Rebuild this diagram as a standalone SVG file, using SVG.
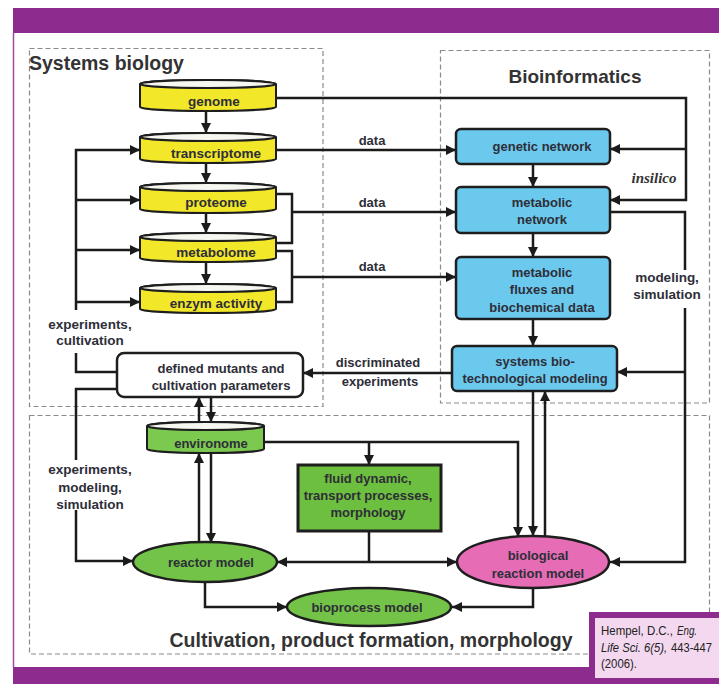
<svg xmlns="http://www.w3.org/2000/svg" width="719" height="684" viewBox="0 0 719 684">
  <defs>
    <marker id="ah" markerUnits="userSpaceOnUse" markerWidth="11" markerHeight="11" refX="10" refY="5" orient="auto">
      <path d="M0,0 L10,5 L0,10 z" fill="#1b1b1b"/>
    </marker>
  </defs>
  <style>
    .ln { stroke:#1b1b1b; stroke-width:2.5; fill:none; }
    .ar { marker-end:url(#ah); }
    .dash { fill:none; stroke:#8a8a8a; stroke-width:1.2; stroke-dasharray:5 3; }
    .t { font-family:"Liberation Sans", Arial, sans-serif; font-weight:bold; font-size:13px; fill:#2e2e38; text-anchor:middle; }
    .tc { font-size:13.5px; }
    .title { font-family:"Liberation Sans", Arial, sans-serif; font-weight:bold; fill:#333; }
    .cyl { stroke:#1e1e1e; stroke-width:2; }
    .yel { fill:#f2e829; }
    .cap { fill:#f7f7f2; }
    .blue { fill:#6cc9ee; stroke:#1e1e1e; stroke-width:2.5; }
    .green { fill:#72c347; stroke:#1e1e1e; stroke-width:2.5; }
    .cite { font-family:"Liberation Sans", Arial, sans-serif; font-size:12px; fill:#222; }
  </style>

  <!-- frame -->
  <rect x="0" y="0" width="719" height="684" fill="#ffffff"/>
  <rect x="13" y="8" width="706" height="25" fill="#8d2b8e"/>
  <line x1="13.5" y1="33" x2="13.5" y2="667" stroke="#a04aa0" stroke-width="1.5"/>
  <rect x="13" y="667" width="706" height="17" fill="#8d2b8e"/>

  <!-- section boxes -->
  <g id="sections">
    <rect class="dash" x="29.5" y="48.5" width="293.5" height="358"/>
    <rect class="dash" x="440.5" y="50.5" width="269" height="352.5"/>
    <rect class="dash" x="29.5" y="415.5" width="680" height="238.5"/>
    <text class="title" x="29" y="70" font-size="19.5">Systems biology</text>
    <text class="title" x="575" y="83" font-size="19" text-anchor="middle">Bioinformatics</text>
    <text class="title" x="371" y="647" font-size="19.5" text-anchor="middle">Cultivation, product formation, morphology</text>
  </g>

  <!-- connectors -->
  <g id="connectors">
    <path class="ln ar" d="M206,111 V133"/>
    <path class="ln ar" d="M206,163 V183"/>
    <path class="ln ar" d="M206,213 V233"/>
    <path class="ln ar" d="M206,262 V284"/>

    <path class="ln ar" d="M76,310 V150 H140"/>
    <path class="ln ar" d="M76,200 H140"/>
    <path class="ln ar" d="M76,250 H140"/>
    <path class="ln ar" d="M76,302 H140"/>
    <path class="ln" d="M76,353 V372 H117"/>
    <path class="ln" d="M117,389 H76 V460"/>
    <path class="ln ar" d="M76,510 V561 H133"/>

    <path class="ln ar" d="M276,98 H686 V200 H610"/>
    <path class="ln ar" d="M686,149 H610"/>
    <path class="ln ar" d="M276,150 H456"/>
    <path class="ln" d="M276,194 H292 V243 H276"/>
    <path class="ln ar" d="M292,212 H456"/>
    <path class="ln" d="M276,251 H292 V302 H276"/>
    <path class="ln ar" d="M292,277 H456"/>

    <path class="ln ar" d="M533,164 V187"/>
    <path class="ln ar" d="M533,233 V257"/>
    <path class="ln ar" d="M533,319 V346"/>

    <path class="ln" d="M610,212 H685 V270"/>
    <path class="ln ar" d="M685,308 V562 H610"/>
    <path class="ln ar" d="M685,372 H617"/>
    <path class="ln ar" d="M452,373 H303"/>

    <path class="ln ar" d="M199,422 V397"/>
    <path class="ln ar" d="M211,397 V422"/>
    <path class="ln ar" d="M199,543 V453"/>
    <path class="ln ar" d="M211,453 V543"/>

    <path class="ln ar" d="M264,442 H518 V537"/>
    <path class="ln ar" d="M369,442 V465"/>
    <path class="ln ar" d="M533,391 V536"/>
    <path class="ln ar" d="M545,536 V391"/>

    <path class="ln" d="M369,531 V562"/>
    <path class="ln ar" d="M369,562 H277"/>
    <path class="ln ar" d="M369,562 H457"/>
    <path class="ln ar" d="M205,582 V607 H287"/>
    <path class="ln ar" d="M533,588 V607 H452"/>

    <text class="t" x="372" y="145">data</text>
    <text class="t" x="372" y="207">data</text>
    <text class="t" x="372" y="271">data</text>
    <text x="654" y="183" font-family="'Liberation Serif', 'Times New Roman', serif" font-style="italic" font-weight="bold" font-size="15" fill="#333" text-anchor="middle">insilico</text>
    <text class="t tc" x="667" y="282">modeling,</text>
    <text class="t tc" x="667" y="299">simulation</text>
    <text class="t tc" x="90" y="329">experiments,</text>
    <text class="t tc" x="90" y="345">cultivation</text>
    <text class="t" x="378" y="367">discriminated</text>
    <text class="t" x="380" y="386">experiments</text>
    <text class="t tc" x="90" y="474">experiments,</text>
    <text class="t tc" x="90" y="492">modeling,</text>
    <text class="t tc" x="90" y="509">simulation</text>
  </g>

  <!-- systems biology layers -->
  <g id="genome">
    <path class="cyl yel" d="M140,84 V107 A68,4 0 0 0 276,107 V84 A68,4 0 0 0 140,84 Z"/>
    <ellipse class="cyl cap" cx="208" cy="84" rx="68" ry="4"/>
    <text class="t tc" x="214" y="106">genome</text>
  </g>
  <g id="transcriptome">
    <path class="cyl yel" d="M140,137 V159 A68,4 0 0 0 276,159 V137 A68,4 0 0 0 140,137 Z"/>
    <ellipse class="cyl cap" cx="208" cy="137" rx="68" ry="4"/>
    <text class="t tc" x="216" y="158">transcriptome</text>
  </g>
  <g id="proteome">
    <path class="cyl yel" d="M140,187 V209 A68,4 0 0 0 276,209 V187 A68,4 0 0 0 140,187 Z"/>
    <ellipse class="cyl cap" cx="208" cy="187" rx="68" ry="4"/>
    <text class="t tc" x="216" y="207">proteome</text>
  </g>
  <g id="metabolome">
    <path class="cyl yel" d="M140,237 V258 A68,4 0 0 0 276,258 V237 A68,4 0 0 0 140,237 Z"/>
    <ellipse class="cyl cap" cx="208" cy="237" rx="68" ry="4"/>
    <text class="t tc" x="216" y="257">metabolome</text>
  </g>
  <g id="enzym-activity">
    <path class="cyl yel" d="M140,288 V309 A68,4 0 0 0 276,309 V288 A68,4 0 0 0 140,288 Z"/>
    <ellipse class="cyl cap" cx="208" cy="288" rx="68" ry="4"/>
    <text class="t tc" x="216" y="308">enzym activity</text>
  </g>

  <!-- bioinformatics -->
  <g id="genetic-network">
    <rect class="blue" x="456" y="129" width="154" height="35" rx="5"/>
    <text class="t" x="542" y="151">genetic network</text>
  </g>
  <g id="metabolic-network">
    <rect class="blue" x="456" y="187" width="154" height="46" rx="5"/>
    <text class="t" x="542" y="207">metabolic</text>
    <text class="t" x="542" y="224">network</text>
  </g>
  <g id="metabolic-fluxes">
    <rect class="blue" x="456" y="257" width="154" height="62" rx="5"/>
    <text class="t" x="542" y="277">metabolic</text>
    <text class="t" x="542" y="294">fluxes and</text>
    <text class="t" x="542" y="312">biochemical data</text>
  </g>
  <g id="systems-modeling">
    <rect class="blue" x="452" y="346" width="165" height="45" rx="5"/>
    <text class="t" x="535" y="366">systems bio-</text>
    <text class="t" x="535" y="383">technological modeling</text>
  </g>

  <g id="defined-mutants">
    <rect x="117" y="353" width="186" height="44" rx="7" fill="#ffffff" stroke="#1e1e1e" stroke-width="2.5"/>
    <text class="t" x="221" y="373">defined mutants and</text>
    <text class="t" x="221" y="390">cultivation parameters</text>
  </g>

  <!-- cultivation -->
  <g id="environome">
    <path class="cyl" fill="#7cc94f" d="M147,426 V449 A58.5,4 0 0 0 264,449 V426 A58.5,4 0 0 0 147,426 Z"/>
    <ellipse class="cyl cap" cx="205.5" cy="426" rx="58.5" ry="4"/>
    <text class="t" x="211" y="448">environome</text>
  </g>
  <g id="fluid-dynamics">
    <rect x="298" y="465" width="143" height="66" fill="#6dbf3f" stroke="#1e1e1e" stroke-width="3"/>
    <text class="t" x="368" y="483" font-weight="normal" font-size="14" fill="#2a3550">fluid dynamic,</text>
    <text class="t" x="368" y="500" font-weight="normal" font-size="14" fill="#2a3550">transport processes,</text>
    <text class="t" x="368" y="517" font-weight="normal" font-size="14" fill="#2a3550">morphology</text>
  </g>
  <g id="reactor-model">
    <ellipse class="green" cx="205" cy="562" rx="72" ry="20"/>
    <text class="t" x="211" y="567">reactor model</text>
  </g>
  <g id="biological-reaction-model">
    <ellipse cx="533" cy="562" rx="76" ry="26" fill="#e56cb5" stroke="#1e1e1e" stroke-width="2.5"/>
    <text class="t" x="538" y="560">biological</text>
    <text class="t" x="538" y="578">reaction model</text>
  </g>
  <g id="bioprocess-model">
    <ellipse class="green" cx="369" cy="607" rx="82" ry="19"/>
    <text class="t" x="367" y="612">bioprocess model</text>
  </g>

  <!-- reference -->
  <g id="citation">
    <rect x="589" y="612" width="130" height="72" fill="#8d2b8e"/>
    <rect x="595" y="618" width="124" height="60" fill="#f3d8ef"/>
    <text class="cite" x="601" y="635" textLength="72" lengthAdjust="spacingAndGlyphs">Hempel, D.C.,</text>
    <text class="cite" x="677" y="635" font-style="italic" textLength="20" lengthAdjust="spacingAndGlyphs">Eng.</text>
    <text class="cite" x="601" y="652" font-style="italic" textLength="66" lengthAdjust="spacingAndGlyphs">Life Sci. 6(5),</text>
    <text class="cite" x="671" y="652" textLength="41" lengthAdjust="spacingAndGlyphs">443-447</text>
    <text class="cite" x="601" y="668" textLength="36" lengthAdjust="spacingAndGlyphs">(2006).</text>
  </g>
</svg>
